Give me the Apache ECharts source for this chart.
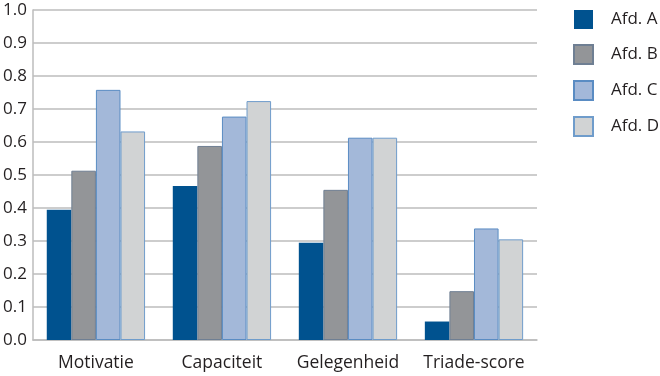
<!DOCTYPE html>
<html>
<head>
<meta charset="utf-8">
<script src="https://cdn.jsdelivr.net/npm/echarts@6/dist/echarts.min.js"></script>
<style>
  html, body { margin: 0; padding: 0; background: #fff; }
  #chart { width: 660px; height: 376px; }
</style>
</head>
<body>
<div id="chart"></div>
<script>
var categories = ['Motivatie', 'Capaciteit', 'Gelegenheid', 'Triade-score'];
var afdA = [0.395, 0.467, 0.295, 0.056];
var afdB = [0.513, 0.588, 0.455, 0.148];
var afdC = [0.758, 0.677, 0.613, 0.338];
var afdD = [0.632, 0.724, 0.613, 0.305];

var myChart = echarts.init(document.getElementById('chart'));
var font = 'Open Sans';
var textColor = '#231f20';

function bar(name, data, fill, border) {
    return {
        name: name,
        type: 'bar',
        data: data,
        barGap: 0,
        barCategoryGap: '22%',
        itemStyle: { color: fill, borderColor: border, borderWidth: border ? 1 : 0 }
    };
}

var option = {
    animation: false,
    backgroundColor: '#fff',
    grid: { left: 32, right: 123, top: 10, bottom: 36 },
    legend: {
        orient: 'vertical',
        left: 573,
        top: 10,
        padding: 0,
        itemWidth: 19,
        itemHeight: 19,
        itemGap: 15,
        icon: 'rect',
        textStyle: { fontFamily: font, fontSize: 17, color: textColor, padding: [0, 0, 0, 13] },
        data: ['Afd. A', 'Afd. B', 'Afd. C', 'Afd. D']
    },
    xAxis: {
        type: 'category',
        data: categories,
        axisLine: { lineStyle: { color: '#bcbcbc', width: 1.5 } },
        axisTick: { show: false },
        axisLabel: { interval: 0, fontFamily: font, fontSize: 17.5, color: textColor, margin: 14 }
    },
    yAxis: {
        type: 'value',
        min: 0,
        max: 1,
        interval: 0.1,
        axisLine: { show: true, lineStyle: { color: '#bcbcbc', width: 1.5 } },
        axisTick: { show: false },
        splitLine: { lineStyle: { color: '#bcbcbc', width: 1.5 } },
        axisLabel: {
            fontFamily: font, fontSize: 17, color: textColor, margin: 6,
            formatter: function (v) { return v.toFixed(1); }
        }
    },
    series: [
        bar('Afd. A', afdA, '#00528f', null),
        bar('Afd. B', afdB, '#939598', '#6f7f93'),
        bar('Afd. C', afdC, '#a3b8d9', '#5a8cc3'),
        bar('Afd. D', afdD, '#d1d3d4', '#6f9ccb')
    ]
};
myChart.setOption(option);
</script>
</body>
</html>
